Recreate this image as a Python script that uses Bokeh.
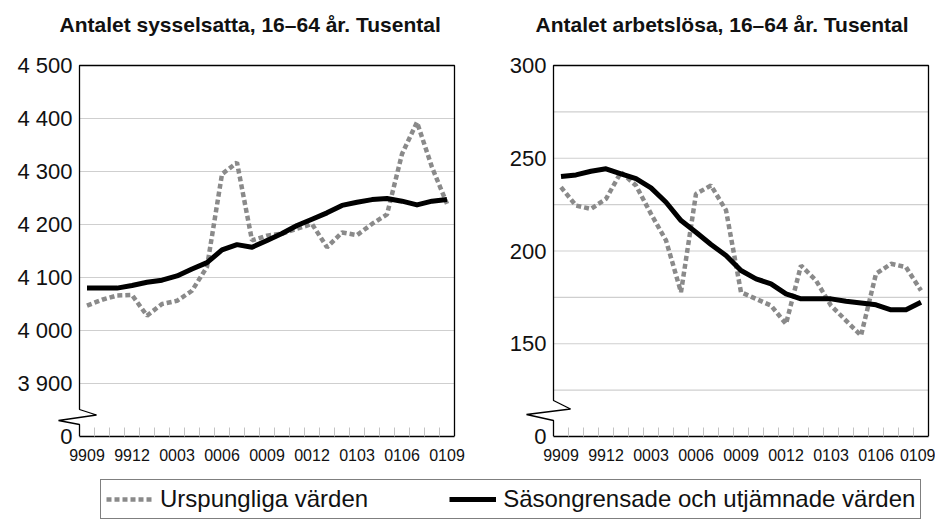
from bokeh.plotting import figure
from bokeh.models import FixedTicker, Legend, LegendItem, Label
from bokeh.layouts import column, row
from bokeh.embed import file_html
from bokeh.resources import INLINE

# ---------------- data ----------------
months = ["9909", "9910", "9911", "9912",
          "0001", "0002", "0003", "0004", "0005", "0006",
          "0007", "0008", "0009", "0010", "0011", "0012",
          "0101", "0102", "0103", "0104", "0105", "0106",
          "0107", "0108", "0109"]
tick_idx = [0, 3, 6, 9, 12, 15, 18, 21, 24]

sys_orig = [4047, 4058, 4066, 4067, 4028, 4050, 4056, 4075, 4120, 4295,
            4317, 4170, 4179, 4183, 4192, 4201, 4157, 4185, 4180, 4201,
            4219, 4333, 4393, 4308, 4239]
sys_sa = [4080, 4080, 4080, 4085, 4091, 4095, 4103, 4116, 4128, 4152,
          4162, 4157, 4170, 4183, 4198, 4210, 4222, 4236, 4242, 4247,
          4249, 4244, 4237, 4244, 4247]

arb_orig = [234.4, 224.5, 222.7, 228.1, 242.5, 235.3, 220.0, 205.7, 177.8, 230.8,
            235.3, 222.0, 177.8, 174.2, 170.6, 160.7, 192.2, 184.1, 170.6, 162.5,
            154.4, 187.7, 193.1, 191.3, 178.7]
arb_sa = [240.2, 241.0, 243.0, 244.3, 241.6, 239.0, 234.0, 226.3, 216.4, 210.1,
          203.5, 197.6, 189.5, 185.0, 182.3, 176.9, 174.2, 174.2, 174.2, 172.9,
          172.0, 171.0, 168.3, 168.3, 172.4]

sys_ticks = [3800, 3900, 4000, 4100, 4200, 4300, 4400, 4500]
sys_labels = ["0", "3 900", "4 000", "4 100", "4 200", "4 300", "4 400", "4 500"]
sys_grid = [3900, 4000, 4100, 4200, 4300, 4400]

arb_ticks = [100, 150, 200, 250, 300]
arb_labels = ["0", "150", "200", "250", "300"]
arb_grid = [125, 150, 175, 200, 225, 250, 275]

title_sys = "Antalet sysselsatta, 16\u201364 \u00e5r. Tusental"
title_arb = "Antalet arbetsl\u00f6sa, 16\u201364 \u00e5r. Tusental"
legend_labels = ["Urspungliga v\u00e4rden", "S\u00e4songrensade och utj\u00e4mnade v\u00e4rden"]

FONT = "Liberation Sans"
GRAY = "#8a8a8a"
INK = "#111111"
STEP = 15.0          # px per month
PW, PH = 375, 371    # visible plot box
EXT_L, EXT_R, EXT_T = 30, 2, 2   # extra frame room for the axis break
TOTAL_W = 935


def panel(orig, sa, ylo, yhi, yticks, ylabels, grid, frame_left, fig_width, brk):
    sy = (yhi - ylo) / PH
    fw = PW + EXT_L + EXT_R
    fh = PH + EXT_T
    p = figure(frame_width=fw, frame_height=fh,
               width=fig_width, height=430,
               x_range=(-0.5 - EXT_L / STEP, 24.5 + EXT_R / STEP),
               y_range=(ylo, yhi + EXT_T * sy),
               output_backend="svg", toolbar_location=None,
               min_border_left=frame_left, min_border_right=fig_width - frame_left - fw,
               min_border_top=23, min_border_bottom=34,
               outline_line_color=None)

    # horizontal grid lines across the plot box
    n = len(grid)
    p.segment(x0=[-0.5] * n, y0=grid, x1=[24.5] * n, y1=grid,
              line_color="#cfcfcf", line_width=1.2)

    xs = list(range(len(months)))
    p.line(xs, orig, line_color=GRAY, line_width=4.5, line_dash="5 3")
    p.line(xs, sa, line_color="black", line_width=5, line_join="round")

    # box edges: right, top, and the broken left edge
    bx = [24.5, 24.5, -0.5] + [-0.5 + dx / STEP for dx, dy in brk] + [-0.5]
    by = [ylo, yhi, yhi] + [ylo + dy * sy for dx, dy in brk] + [ylo]
    p.line(bx, by, line_color="black", line_width=1.3)

    # x axis
    xa = p.xaxis[0]
    xa.bounds = (-0.5, 24.5)
    xa.ticker = FixedTicker(ticks=tick_idx, minor_ticks=[i + 0.5 for i in range(24)])
    xa.major_label_overrides = {i: months[i] for i in tick_idx}
    xa.major_tick_in = 0
    xa.major_tick_out = 0
    xa.minor_tick_in = 9
    xa.minor_tick_out = 0
    xa.minor_tick_line_color = "#c4c4c4"
    xa.axis_line_color = "black"
    xa.axis_line_width = 1.3
    xa.major_label_text_font = FONT
    xa.major_label_text_font_size = "16px"
    xa.major_label_text_color = INK
    xa.major_label_standoff = 12

    # y axis (labels only; line drawn with the box)
    ya = p.yaxis[0]
    ya.ticker = FixedTicker(ticks=yticks, minor_ticks=[])
    ya.major_label_overrides = dict(zip(yticks, ylabels))
    ya.axis_line_color = None
    ya.major_tick_in = 0
    ya.major_tick_out = 0
    ya.minor_tick_in = 0
    ya.minor_tick_out = 0
    ya.major_label_text_font = FONT
    ya.major_label_text_font_size = "22px"
    ya.major_label_text_color = INK
    ya.major_label_standoff = -(EXT_L - 7)

    p.xgrid.visible = False
    p.ygrid.visible = False
    return p


# title strip
hf = figure(width=TOTAL_W, height=40, x_range=(0, 1), y_range=(0, 1),
            output_backend="svg", toolbar_location=None,
            x_axis_type=None, y_axis_type=None,
            min_border=0, outline_line_color=None)
hf.xgrid.visible = False
hf.ygrid.visible = False
for tx, txt in [(59, title_sys), (535, title_arb)]:
    hf.add_layout(Label(x=tx, y=16, x_units="screen", y_units="screen", text=txt,
                        text_font=FONT, text_font_size="21px", text_font_style="bold",
                        text_color=INK, text_baseline="middle", text_align="left"))

p1 = panel(sys_orig, sys_sa, 3800, 4500, sys_ticks, sys_labels, sys_grid,
           49, 470, [(0, 27), (17, 21.5), (-21, 16), (0, 12)])
p2 = panel(arb_orig, arb_sa, 100, 300, arb_ticks, arb_labels, arb_grid,
           53, TOTAL_W - 470, [(0, 36), (17, 27.5), (-27, 22), (0, 16)])

# legend strip
lf = figure(width=TOTAL_W, height=49, x_range=(0, 1), y_range=(0, 1),
            output_backend="svg", toolbar_location=None,
            x_axis_type=None, y_axis_type=None,
            min_border=0, outline_line_color=None)
lf.xgrid.visible = False
lf.ygrid.visible = False
r1 = lf.line([5, 6], [5, 6], line_color=GRAY, line_width=4.5, line_dash="5 3")
r2 = lf.line([5, 6], [5, 6], line_color="black", line_width=5)
leg = Legend(items=[LegendItem(label=legend_labels[0], renderers=[r1]),
                    LegendItem(label=legend_labels[1], renderers=[r2])],
             orientation="horizontal", location=(100, 0),
             label_text_font=FONT, label_text_font_size="24px",
             label_text_color=INK,
             glyph_width=47, glyph_height=20, label_standoff=7,
             spacing=81, padding=5, margin=0,
             border_line_color="black", border_line_width=1.2)
lf.add_layout(leg)

layout = column(hf, row(p1, p2), lf)
open("out.html", "w").write(file_html(layout, INLINE))
